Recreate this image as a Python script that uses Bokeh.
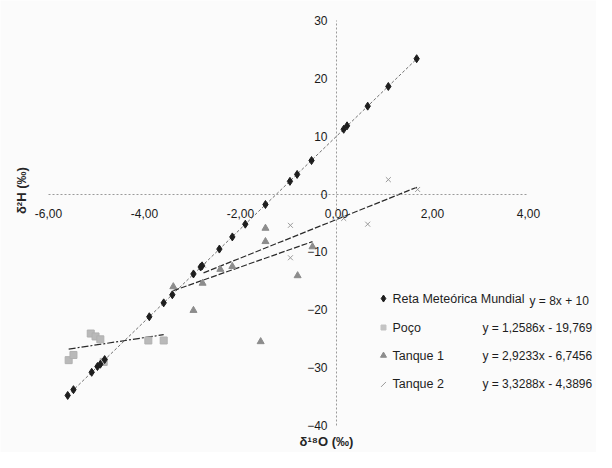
import numpy as np
from bokeh.plotting import figure
from bokeh.models import Range1d, FixedTicker, Label, ColumnDataSource
from bokeh.core.properties import value
from bokeh.embed import file_html
from bokeh.resources import INLINE

# ---------------- data ----------------
reta_x = [-5.60, -5.48, -5.10, -4.98, -4.92, -4.83, -3.90, -3.60, -3.42, -2.98, -2.83,
          -2.80, -2.44, -2.17, -1.90, -1.48, -0.97, -0.82, -0.52, 0.15, 0.22, 0.65, 1.08, 1.67]
reta_y = [-34.8, -33.8, -30.8, -29.8, -29.4, -28.6, -21.2, -18.8, -17.4, -13.8, -12.6,
          -12.4, -9.5, -7.4, -5.2, -1.8, 2.2, 3.4, 5.8, 11.2, 11.8, 15.2, 18.6, 23.4]

poco_x = [-5.58, -5.48, -5.12, -5.02, -4.92, -4.85, -3.92, -3.60]
poco_y = [-28.7, -27.8, -24.1, -24.6, -25.1, -29.0, -25.3, -25.3]

t1_x = [-3.40, -2.98, -2.79, -2.42, -2.17, -1.58, -1.48, -1.48, -0.81, -0.50]
t1_y = [-16.0, -20.1, -15.4, -13.0, -12.5, -25.5, -5.9, -8.2, -14.1, -9.1]

t2_x = [-2.77, -0.96, -0.96, 0.15, 0.65, 1.08, 1.69]
t2_y = [-12.3, -5.4, -11.0, -4.2, -5.2, 2.5, 0.8]

series_names = ["Reta Meteórica Mundial", "Poço", "Tanque 1", "Tanque 2"]
equations = ["y = 8x + 10", "y = 1,2586x - 19,769", "y = 2,9233x - 6,7456", "y = 3,3288x - 4,3896"]
slopes = [8.0, 1.2586, 2.9233, 3.3288]
intercepts = [10.0, -19.769, -6.7456, -4.3896]

x_ticks = [-6, -4, -2, 0, 2, 4]
x_tick_labels = ["-6,00", "-4,00", "-2,00", "0,00", "2,00", "4,00"]
y_ticks = [-40, -30, -20, -10, 0, 10, 20, 30]

# ---------------- figure ----------------
W, H = 596, 452
bg = "#fbfbfb"
p = figure(width=W, height=H, output_backend="svg", toolbar_location=None,
           x_range=Range1d(-7.0, 5.4167), y_range=Range1d(-44.66, 33.46),
           min_border=0, min_border_left=0, min_border_right=0,
           min_border_top=0, min_border_bottom=0)
p.outline_line_color = None
p.grid.visible = False
p.background_fill_color = bg
p.border_fill_color = bg

font = "Liberation Sans"
for ax in (p.xaxis, p.yaxis):
    ax.fixed_location = 0
    ax.axis_line_color = "#9a9a9a"
    ax.axis_line_dash = "2 2"
    ax.axis_line_width = 1
    ax.major_tick_out = 0
    ax.major_tick_in = 0
    ax.minor_tick_out = 0
    ax.minor_tick_in = 0
    ax.major_label_text_font = font
    ax.major_label_text_font_size = "12px"
    ax.major_label_text_color = "#1a1a1a"

p.xaxis.bounds = (x_ticks[0], x_ticks[-1])
p.yaxis.bounds = (y_ticks[0], y_ticks[-1])
p.xaxis.ticker = FixedTicker(ticks=x_ticks)
p.yaxis.ticker = FixedTicker(ticks=y_ticks)
p.xaxis.major_label_overrides = {t: s for t, s in zip(x_ticks, x_tick_labels)}
p.xaxis.major_label_standoff = 15
p.yaxis.major_label_standoff = 9

# ---------------- trend lines ----------------
all_x = [reta_x, poco_x, t1_x, t2_x]
line_styles = [("#707070", "3 2", 1.0), ("#2a2a2a", "7 2 2 2", 1.2),
               ("#2a2a2a", "6 2", 1.2), ("#2a2a2a", "6 2", 1.2)]
for xs, m, b, (c, d, w) in zip(all_x, slopes, intercepts, line_styles):
    xx = np.array([min(xs), max(xs)])
    p.line(xx, m * xx + b, line_color=c, line_dash=d, line_width=w)

# ---------------- points ----------------
p.scatter(poco_x, poco_y, marker="square", size=7, fill_color="#b9b9b9",
          line_color="#b0b0b0")
p.scatter(t1_x, t1_y, marker="triangle", size=7, fill_color="#8c8c8c",
          line_color="#8c8c8c")
p.scatter(t2_x, t2_y, marker="x", size=7, line_color="#9a9a9a", line_width=1)
p.scatter(reta_x, reta_y, marker="diamond", size=8, fill_color="#1e1e1e",
          line_color="#1e1e1e")

# ---------------- axis titles ----------------
p.add_layout(Label(x=-6.5625, y=0.6, text="δ²H (‰)", angle=np.pi / 2,
                   text_align="center", text_baseline="middle",
                   text_font=font, text_font_size="13px", text_font_style="bold",
                   text_color="#262626"))
p.add_layout(Label(x=-0.21, y=-42.7, text="δ¹⁸O (‰)",
                   text_align="center", text_baseline="middle",
                   text_font=font, text_font_size="13px", text_font_style="bold",
                   text_color="#262626"))

# ---------------- legend ----------------
row_y = [-18.05, -23.06, -27.9, -32.9]
mk_x, name_x, eq_x = 0.979, 1.167, 3.04
markers = [("diamond", "#1e1e1e", "#1e1e1e", 7), ("square", "#c4c4c4", "#c4c4c4", 5),
           ("triangle", "#8c8c8c", "#8c8c8c", 6), ("dash", "#9a9a9a", "#9a9a9a", 7)]
for i, (mk, fc, lc, sz) in enumerate(markers):
    kw = dict(marker=mk, size=sz, fill_color=fc, line_color=lc)
    if mk == "dash":
        kw["angle"] = np.pi / 4
    p.scatter([mk_x], [row_y[i]], **kw)

src = ColumnDataSource(dict(x=[name_x] * 4, y=row_y, t=series_names))
p.text(x="x", y="y", text="t", source=src, text_font=value(font),
       text_font_size="12.5px", text_color="#1e1e1e", text_baseline="middle",
       text_align="left")
eq_xs = [4.02] + [eq_x] * 3
eq_ys = [row_y[0] - 0.5] + row_y[1:]
src2 = ColumnDataSource(dict(x=eq_xs, y=eq_ys, t=equations))
p.text(x="x", y="y", text="t", source=src2, text_font=value(font),
       text_font_size="12px", text_color="#1e1e1e", text_baseline="middle",
       text_align="left")

open("out.html", "w").write(file_html(p, INLINE))
